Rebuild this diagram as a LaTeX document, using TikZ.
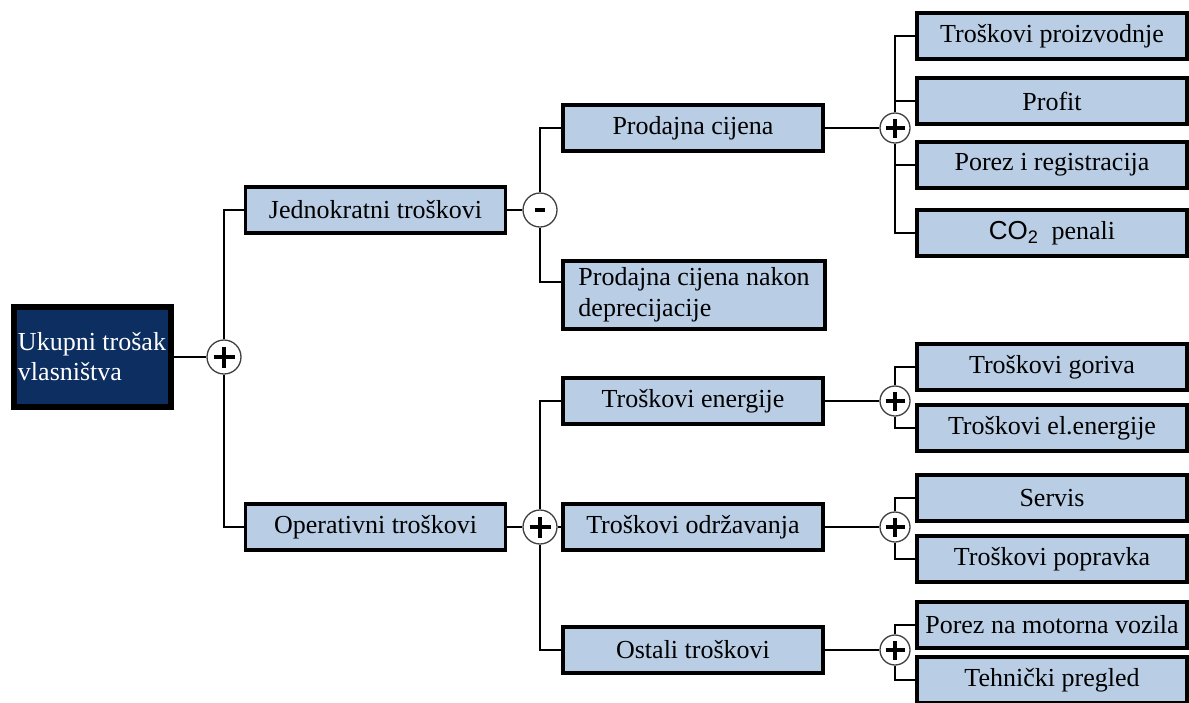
\documentclass[tikz,border=0pt]{standalone}
\usepackage{fontspec}
\setmainfont{Liberation Serif}
\newfontfamily\cofont{Liberation Sans}
\usetikzlibrary{positioning}
\definecolor{boxfill}{RGB}{185,205,229}
\definecolor{rootfill}{RGB}{12,46,96}
\newcommand{\costsize}{\fontsize{26}{31}\selectfont}
\tikzset{
	cost/.style={draw, line width=3.2pt, fill=boxfill, inner sep=0pt, minimum height=46pt, font=\costsize},
	midcost/.style={cost, minimum width=260pt},
	leafcost/.style={cost, minimum width=270pt},
	sign/.style={circle, draw=black!75, line width=1.3pt, fill=white, inner sep=0pt, minimum size=#1},
	sign/.default=34pt,
	plusbar/.style={path picture={
		\draw[black, line width=3.2pt] ([xshift=-#1]path picture bounding box.center) -- ([xshift=#1]path picture bounding box.center);
		\draw[black, line width=3.2pt] ([yshift=-#1]path picture bounding box.center) -- ([yshift=#1]path picture bounding box.center);}},
	plusbar/.default=10.5pt,
	minusbar/.style={path picture={
		\draw[black, line width=3.6pt] ([xshift=-5pt]path picture bounding box.center) -- ([xshift=5pt]path picture bounding box.center);}},
	link/.style={line width=2.8pt}
}
\begin{document}
\begin{tikzpicture}[x=1pt,y=-1pt]
	\useasboundingbox (0,0) rectangle (1189,702);
	% root
	\node[draw, line width=6pt, fill=rootfill, text=white, align=left, font=\fontsize{26}{30}\selectfont, inner sep=0pt, minimum width=157pt, minimum height=100pt] (total) at (92,357) {Ukupni trošak\\vlasništva};
	\node[sign, plusbar] (sumA) at (224,357) {};
	% first level
	\node[midcost] (once) at (375.5,210) {Jednokratni troškovi};
	\node[midcost] (oper) at (375.5,527) {Operativni troškovi};
	\node[sign, minusbar] (diff) at (540,210) {};
	\node[sign, plusbar] (sumO) at (540,527) {};
	% second level
	\node[midcost] (price) at (693,128) {Prodajna cijena};
	\node[cost, line width=4.2pt, minimum width=262pt, minimum height=68pt, align=left] (resid) at (694,295) {Prodajna cijena nakon\\deprecijacije};
	\node[midcost] (energy) at (693,401) {Troškovi energije};
	\node[midcost] (upkeep) at (693,527) {Troškovi održavanja};
	\node[midcost] (other) at (693,650) {Ostali troškovi};
	% sums on the right
	\node[sign=30pt, plusbar=9.5pt] (sumP) at (895,128) {};
	\node[sign=30pt, plusbar=9.5pt] (sumE) at (895,401) {};
	\node[sign=30pt, plusbar=9.5pt] (sumU) at (895,527) {};
	\node[sign=30pt, plusbar=9.5pt] (sumR) at (895,650) {};
	% leaves
	\node[leafcost] (prod) at (1052,36) {Troškovi proizvodnje};
	\node[leafcost] (profit) at (1052,101) {Profit};
	\node[leafcost] (reg) at (1052,165) {Porez i registracija};
	\node[leafcost] (co2) at (1052,233) {{\cofont CO\textsubscript{2}}\enspace penali};
	\node[leafcost] (fuel) at (1052,367) {Troškovi goriva};
	\node[leafcost] (elec) at (1052,428) {Troškovi el.energije};
	\node[leafcost] (service) at (1052,498) {Servis};
	\node[leafcost] (repair) at (1052,559) {Troškovi popravka};
	\node[leafcost] (tax) at (1052,625) {Porez na motorna vozila};
	\node[leafcost] (check) at (1052,680) {Tehnički pregled};
	% connectors
	\draw[link] (total) -- (sumA);
	\draw[link] (sumA) |- (once.west);
	\draw[link] (sumA) |- (oper.west);
	\draw[link] (once) -- (diff);
	\draw[link] (diff) |- (price.west);
	\draw[link] (diff) |- ([yshift=13pt]resid.west);
	\draw[link] (oper) -- (sumO);
	\draw[link] (sumO) |- (energy.west);
	\draw[link] (sumO) -- (upkeep);
	\draw[link] (sumO) |- (other.west);
	\draw[link] (price) -- (sumP);
	\draw[link] (energy) -- (sumE);
	\draw[link] (upkeep) -- (sumU);
	\draw[link] (other) -- (sumR);
	\foreach \leaf in {prod,profit,reg,co2}
		\draw[link] (sumP) |- (\leaf.west);
	\draw[link] (sumE) |- (fuel.west);
	\draw[link] (sumE) |- (elec.west);
	\draw[link] (sumU) |- (service.west);
	\draw[link] (sumU) |- (repair.west);
	\draw[link] (sumR) |- (tax.west);
	\draw[link] (sumR) |- (check.west);
\end{tikzpicture}
\end{document}
